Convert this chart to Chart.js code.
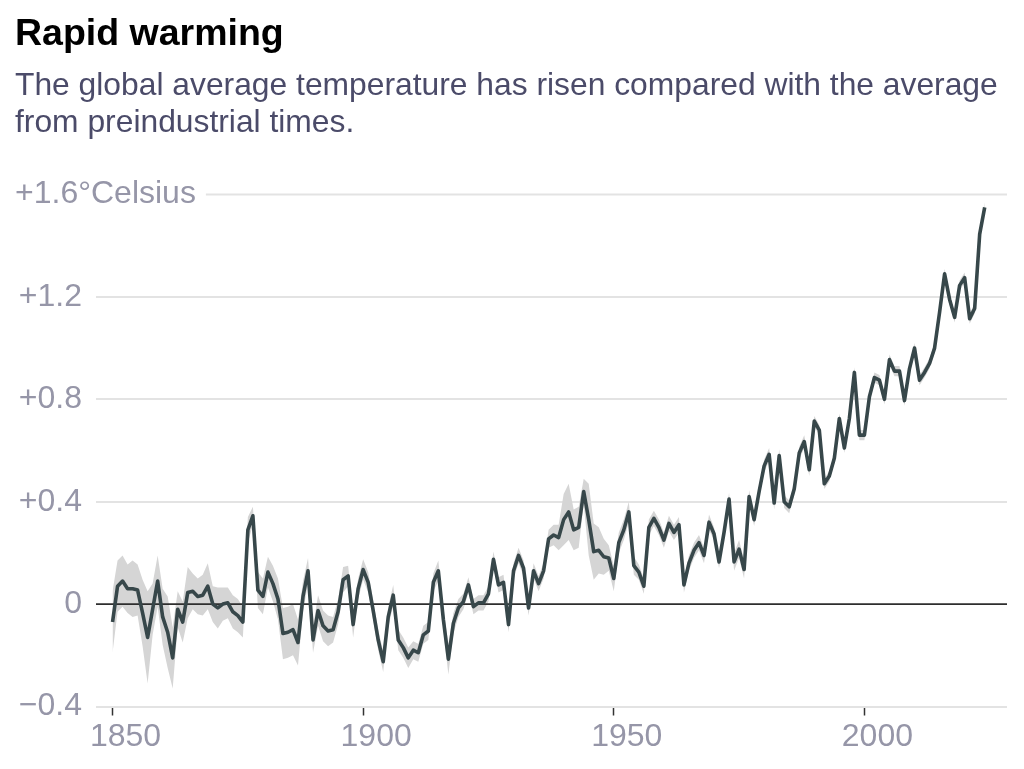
<!DOCTYPE html>
<html>
<head>
<meta charset="utf-8">
<script src="https://cdn.jsdelivr.net/npm/chart.js@4.4.1/dist/chart.umd.min.js"></script>
<style>
    body { margin: 0; background: #fff; width: 1024px; height: 769px; overflow: hidden; position: relative; font-family: 'Liberation Sans', Arial, sans-serif; }
    #title { position: absolute; left: 15px; top: 13px; font-size: 37.5px; line-height: 38px; font-weight: bold; color: #000; white-space: nowrap; }
    #sub { position: absolute; left: 15px; top: 66px; font-size: 31.8px; line-height: 37px; color: #4b4b69; white-space: nowrap; }
    canvas { position: absolute; left: 0; top: 0; }
</style>
</head>
<body>
<canvas id="graph" width="1024" height="769"></canvas>
<div id="title">Rapid warming</div>
<div id="sub">The global average temperature has risen compared with the average<br>from preindustrial times.</div>
<script>
const firstYear = 1850;

// annual anomaly vs preindustrial, °C
const anomaly = [
    -0.07, 0.07, 0.09, 0.06, 0.06, 0.055, -0.035, -0.13, -0.02, 0.09,      // 1850s
    -0.05, -0.11, -0.21, -0.02, -0.07, 0.045, 0.05, 0.03, 0.035, 0.07,     // 1860s
    0.0, -0.015, 0.0, 0.005, -0.03, -0.045, -0.07, 0.29, 0.345, 0.055,     // 1870s
    0.03, 0.125, 0.08, 0.02, -0.115, -0.11, -0.1, -0.15, 0.03, 0.13,       // 1880s
    -0.14, -0.025, -0.085, -0.105, -0.1, -0.03, 0.095, 0.11, -0.08, 0.06,  // 1890s
    0.135, 0.085, -0.025, -0.14, -0.225, -0.05, 0.035, -0.14, -0.17, -0.21, // 1900s
    -0.18, -0.19, -0.12, -0.105, 0.085, 0.13, -0.06, -0.215, -0.075, -0.015, // 1910s
    0.01, 0.075, -0.01, 0.005, 0.005, 0.04, 0.175, 0.075, 0.085, -0.08,    // 1920s
    0.13, 0.19, 0.14, -0.015, 0.13, 0.08, 0.13, 0.255, 0.27, 0.26,         // 1930s
    0.33, 0.36, 0.29, 0.30, 0.44, 0.33, 0.205, 0.21, 0.185, 0.18,          // 1940s
    0.10, 0.24, 0.29, 0.36, 0.15, 0.125, 0.07, 0.30, 0.335, 0.30,          // 1950s
    0.25, 0.315, 0.28, 0.31, 0.075, 0.16, 0.21, 0.24, 0.19, 0.32,          // 1960s
    0.275, 0.165, 0.28, 0.41, 0.165, 0.215, 0.135, 0.42, 0.33, 0.44,       // 1970s
    0.54, 0.585, 0.395, 0.58, 0.40, 0.38, 0.45, 0.59, 0.635, 0.525,        // 1980s
    0.715, 0.68, 0.47, 0.50, 0.57, 0.725, 0.61, 0.725, 0.905, 0.66,        // 1990s
    0.66, 0.81, 0.885, 0.875, 0.80, 0.955, 0.91, 0.91, 0.795, 0.92,        // 2000s
    1.0, 0.875, 0.905, 0.94, 1.0, 1.14, 1.29, 1.19, 1.12, 1.245,           // 2010s
    1.275, 1.115, 1.155, 1.445, 1.55                                       // 2020s
];

// half width of the grey uncertainty band, °C
const spread = [
    0.12, 0.10, 0.10, 0.095, 0.11, 0.10, 0.13, 0.18, 0.10, 0.10,
    0.11, 0.14, 0.12, 0.07, 0.08, 0.10, 0.07, 0.07, 0.08, 0.09,
    0.07, 0.08, 0.065, 0.06, 0.065, 0.065, 0.06, 0.05, 0.035, 0.07,
    0.07, 0.06, 0.07, 0.08, 0.10, 0.10, 0.10, 0.09, 0.06, 0.05,
    0.05, 0.06, 0.06, 0.06, 0.05, 0.05, 0.05, 0.04, 0.05, 0.04,
    0.04, 0.04, 0.04, 0.04, 0.04, 0.04, 0.04, 0.04, 0.04, 0.04,
    0.035, 0.035, 0.035, 0.035, 0.035, 0.04, 0.04, 0.06, 0.04, 0.035,
    0.03, 0.03, 0.03, 0.03, 0.03, 0.03, 0.03, 0.03, 0.03, 0.03,
    0.03, 0.03, 0.03, 0.03, 0.03, 0.03, 0.03, 0.035, 0.04, 0.05,
    0.10, 0.11, 0.08, 0.08, 0.05, 0.14, 0.11, 0.09, 0.07, 0.05,
    0.05, 0.04, 0.04, 0.04, 0.035, 0.03, 0.03, 0.03, 0.03, 0.03,
    0.03, 0.03, 0.03, 0.03, 0.03, 0.03, 0.03, 0.03, 0.03, 0.03,
    0.025, 0.025, 0.025, 0.025, 0.035, 0.035, 0.035, 0.025, 0.025, 0.025,
    0.025, 0.025, 0.025, 0.025, 0.025, 0.025, 0.025, 0.025, 0.025, 0.025,
    0.02, 0.02, 0.02, 0.02, 0.02, 0.02, 0.02, 0.02, 0.02, 0.02,
    0.02, 0.02, 0.02, 0.02, 0.02, 0.02, 0.02, 0.02, 0.02, 0.02,
    0.02, 0.02, 0.02, 0.02, 0.02, 0.02, 0.02, 0.02, 0.02, 0.02,
    0.02, 0.02, 0.02, 0.02, 0.02
];

const xTicks = [1850, 1900, 1950, 2000];
const yMin = -0.4, yMax = 1.6, yStep = 0.4;
const xMin = 1846.7, xMax = 2028.45;
const topLabelText = '+1.6°Celsius';

const FONT = "'Liberation Sans', Arial, sans-serif";
const LABEL = '#9696a8';
const GRID = '#e3e3e3';

const pts = anomaly.map((v, i) => ({ x: firstYear + i, y: v }));
const lower = anomaly.map((v, i) => ({ x: firstYear + i, y: v - spread[i] }));
const upper = anomaly.map((v, i) => ({ x: firstYear + i, y: v + spread[i] }));

function fmt(v) {
    v = Math.round(v * 10) / 10;
    if (v === 0) return '0';
    if (v >= yMax) return '';
    return v > 0 ? '+' + v.toFixed(1) : '\u2212' + Math.abs(v).toFixed(1);
}

// top tick label sits left aligned and its gridline starts after it
const topLabel = {
    id: 'topLabel',
    beforeDatasetsDraw(chart) {
        const c = chart.ctx, y = chart.scales.y.getPixelForValue(yMax);
        c.save();
        c.font = '32px ' + FONT;
        const w = c.measureText(topLabelText).width;
        c.strokeStyle = GRID;
        c.lineWidth = 2;
        c.beginPath();
        c.moveTo(15 + w + 10, y);
        c.lineTo(chart.chartArea.right, y);
        c.stroke();
        c.restore();
    },
    afterDraw(chart) {
        const c = chart.ctx, y = chart.scales.y.getPixelForValue(yMax);
        c.save();
        c.font = '32px ' + FONT;
        c.fillStyle = LABEL;
        c.textAlign = 'left';
        c.textBaseline = 'middle';
        c.fillText(topLabelText, 15, y);
        c.restore();
    }
};

new Chart(document.getElementById('graph'), {
    type: 'line',
    data: {
        datasets: [
            { data: lower, borderWidth: 0, pointRadius: 0, fill: false, order: 3 },
            { data: upper, borderWidth: 0, pointRadius: 0, fill: 0, backgroundColor: '#d5d5d5', order: 2 },
            { data: [{ x: xMin, y: 0 }, { x: xMax, y: 0 }], borderColor: '#2e2e2e', borderWidth: 1.6, pointRadius: 0, order: 1 },
            { data: pts, borderColor: '#37474a', borderWidth: 3.6, pointRadius: 0, borderJoinStyle: 'round', tension: 0, order: 0 }
        ]
    },
    options: {
        responsive: false,
        animation: false,
        devicePixelRatio: 1,
        layout: { padding: { top: 194.5, right: 17, bottom: 0, left: 0 } },
        plugins: { legend: { display: false }, tooltip: { enabled: false } },
        scales: {
            x: {
                type: 'linear',
                min: xMin,
                max: xMax,
                afterBuildTicks: s => { s.ticks = xTicks.map(v => ({ value: v })); },
                afterFit: s => { s.height = 62.5; },
                border: { display: false },
                grid: { drawOnChartArea: false, drawTicks: true, tickLength: 9, tickColor: '#333', tickWidth: 1.5, color: '#333' },
                ticks: { color: LABEL, font: { family: FONT, size: 32 }, padding: 2, labelOffset: 13, maxRotation: 0, callback: v => String(v) }
            },
            y: {
                min: yMin,
                max: yMax,
                afterFit: s => { s.width = 96; },
                border: { display: false },
                grid: {
                    drawTicks: false,
                    lineWidth: 2,
                    color: c => (Math.abs(c.tick.value) < 1e-6 || c.tick.value >= yMax - 1e-6) ? 'rgba(0,0,0,0)' : GRID
                },
                ticks: { stepSize: yStep, color: LABEL, font: { family: FONT, size: 32 }, padding: 14, callback: fmt }
            }
        }
    },
    plugins: [topLabel]
});
</script>
</body>
</html>
